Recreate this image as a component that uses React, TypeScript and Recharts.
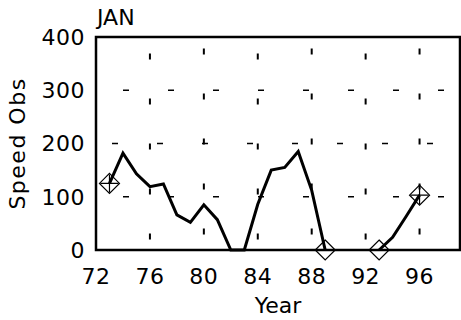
import React from 'react';
import {
  ComposedChart,
  Line,
  Scatter,
  XAxis,
  YAxis,
  CartesianGrid,
  ReferenceArea,
  Customized
} from 'recharts';

const years = [73, 74, 75, 76, 77, 78, 79, 80, 81, 82, 83, 84, 85, 86, 87, 88, 89, 90, 91, 92, 93, 94, 95, 96];
const speedObs = [125, 182, 143, 119, 124, 66, 52, 85, 57, 0, 0, 86, 150, 155, 185, 112, 0, null, null, null, 0, 24, 63, 103];

const diamondYears = [73, 89, 93, 96];
const diamondValues = [125, 0, 0, 103];
const plusYears = [73, 96];
const plusValues = [125, 103];

const xTicks = [72, 76, 80, 84, 88, 92, 96];
const yTicks = [0, 100, 200, 300, 400];
const gridYearsA = [76, 84, 92];
const gridYearsB = [80, 88, 96];
const gridValuesA = [100, 300];
const gridValuesB = [200];

const data = years.map((year, i) => ({ year, speed: speedObs[i] }));
const diamonds = diamondYears.map((year, i) => ({ year, value: diamondValues[i] }));
const pluses = plusYears.map((year, i) => ({ year, value: plusValues[i] }));

const FONT = '"DejaVu Sans", sans-serif';
const textStyle = { fontFamily: FONT, fontSize: 22, fill: '#000' };
const tickStyle = { ...textStyle, letterSpacing: 0.5 };

const Diamond = (props: any) => {
  const { cx, cy } = props;
  const r = 10;
  return (
    <path
      d={`M${cx},${cy - r}L${cx + r},${cy}L${cx},${cy + r}L${cx - r},${cy}Z`}
      fill="none"
      stroke="#000"
      strokeWidth={1.2}
    />
  );
};

const Plus = (props: any) => {
  const { cx, cy } = props;
  const r = 9;
  return (
    <path
      d={`M${cx - r},${cy}L${cx + r},${cy}M${cx},${cy - r}L${cx},${cy + r}`}
      fill="none"
      stroke="#000"
      strokeWidth={1.2}
    />
  );
};

const Title = () => (
  <text x={97} y={25} style={textStyle}>JAN</text>
);

const YLabel = (props: any) => {
  const vb = props.viewBox || { y: 37, height: 213 };
  const cy = vb.y + vb.height / 2;
  return (
    <text
      x={25}
      y={cy}
      transform={`rotate(-90 25 ${cy})`}
      textAnchor="middle"
      style={{ ...textStyle, letterSpacing: 1.5 }}
    >
      Speed Obs
    </text>
  );
};

export default function App() {
  return (
    <div>
      <style>{`body{margin:0;background:#fff}`}</style>
      <ComposedChart
        width={461}
        height={320}
        data={data}
        margin={{ top: 37, right: 1, bottom: 0, left: 0 }}
      >
        <CartesianGrid horizontal={false} verticalValues={gridYearsA} stroke="#000" strokeWidth={2} strokeDasharray="6 39" strokeDashoffset={28.5} />
        <CartesianGrid horizontal={false} verticalValues={gridYearsB} stroke="#000" strokeWidth={2} strokeDasharray="6 39" strokeDashoffset={33.5} />
        <CartesianGrid vertical={false} horizontalValues={gridValuesA} stroke="#000" strokeWidth={1.3} strokeDasharray="6 39" strokeDashoffset={18} />
        <CartesianGrid vertical={false} horizontalValues={gridValuesB} stroke="#000" strokeWidth={1.3} strokeDasharray="6 39" strokeDashoffset={29} />
        <XAxis
          type="number"
          dataKey="year"
          domain={[72, 99]}
          ticks={xTicks}
          interval={0}
          axisLine={false}
          tickLine={false}
          tickSize={0}
          tickMargin={18}
          height={70}
          tick={tickStyle}
          label={{ value: 'Year', position: 'insideBottom', offset: 7, style: textStyle }}
        />
        <YAxis
          type="number"
          domain={[0, 400]}
          ticks={yTicks}
          interval={0}
          axisLine={false}
          tickLine={false}
          tickSize={0}
          tickMargin={11}
          width={96}
          tick={tickStyle}
          label={<YLabel />}
        />
        <ReferenceArea x1={72} x2={99} y1={0} y2={400} fill="none" stroke="#000" strokeWidth={2.5} fillOpacity={0} ifOverflow="visible" />
        <Line
          type="linear"
          dataKey="speed"
          stroke="#000"
          strokeWidth={3}
          dot={false}
          connectNulls={false}
          isAnimationActive={false}
        />
        <Scatter data={diamonds} dataKey="value" shape={<Diamond />} isAnimationActive={false} />
        <Scatter data={pluses} dataKey="value" shape={<Plus />} isAnimationActive={false} />
        <Customized component={<Title />} />
      </ComposedChart>
    </div>
  );
}
